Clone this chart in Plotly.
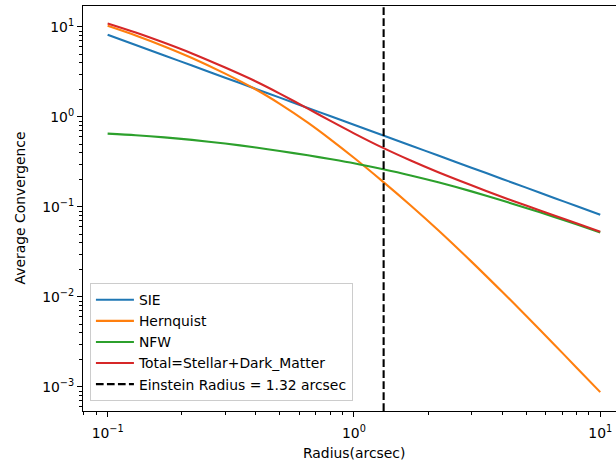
import plotly.graph_objects as go

# ---------------- data ----------------
radius = [0.1, 0.13, 0.17, 0.22, 0.3, 0.4, 0.5, 0.65, 0.8, 1.0, 1.3, 1.7, 2.2, 3, 4, 5, 6.5, 8, 10]
sie = [8.2, 6.31, 4.82, 3.73, 2.73, 2.05, 1.64, 1.26, 1.025, 0.82, 0.63, 0.482, 0.373, 0.273,
       0.205, 0.164, 0.126, 0.1025, 0.082]
hernquist = [10.3, 8.05, 6.08, 4.52, 3.03, 2.02, 1.40, 0.865, 0.568, 0.352, 0.195, 0.104,
             0.0552, 0.0247, 0.0114, 0.0062, 0.00297, 0.00165, 0.000876]
nfw = [0.653, 0.627, 0.594, 0.556, 0.507, 0.457, 0.418, 0.375, 0.341, 0.306, 0.264, 0.224,
       0.188, 0.149, 0.118, 0.0975, 0.0776, 0.0642, 0.052]
total = [10.95, 8.68, 6.67, 5.08, 3.54, 2.48, 1.82, 1.240, 0.909, 0.658, 0.459, 0.328,
         0.243, 0.174, 0.129, 0.1037, 0.0806, 0.0659, 0.0529]
einstein_radius = 1.32

series_names = ["SIE", "Hernquist", "NFW", "Total=Stellar+Dark_Matter"]
einstein_label = "Einstein Radius = 1.32 arcsec"

x_tickvals = [0.1, 1, 10]
x_ticktext = ["10<sup>−1</sup>", "10<sup>0</sup>", "10<sup>1</sup>"]
y_tickvals = [0.001, 0.01, 0.1, 1, 10]
y_ticktext = ["10<sup>−3</sup>", "10<sup>−2</sup>", "10<sup>−1</sup>", "10<sup>0</sup>", "10<sup>1</sup>"]

x_label = "Radius(arcsec)"
y_label = "Average Convergence"

# ---------------- styling ----------------
colors = ["#1f77b4", "#ff7f0e", "#2ca02c", "#d62728"]
FONT = "DejaVu Sans"
FS = 13.9
LW = 2.1

x_range_log = [-1.1, 1.064]
y_range_log = [-3.267, 1.233]

minor_x = [k * 10.0 ** e for e in range(-2, 2) for k in range(2, 10)]
minor_y = [k * 10.0 ** e for e in range(-4, 2) for k in range(2, 10)]

fig = go.Figure()
for i, (name, vals) in enumerate(zip(series_names, [sie, hernquist, nfw, total])):
    fig.add_trace(go.Scatter(
        x=radius, y=vals, mode="lines", name=name, legendgroup=name,
        line=dict(color=colors[i], width=LW, shape="spline", smoothing=0.8),
    ))

fig.add_trace(go.Scatter(
    x=[einstein_radius, einstein_radius],
    y=[10 ** y_range_log[0], 10 ** y_range_log[1]],
    mode="lines", name=einstein_label, legendgroup="er",
    line=dict(color="black", width=LW, dash="7.7px,3.3px"),
))

axis_common = dict(
    type="log", showgrid=False, zeroline=False,
    showline=True, linecolor="black", linewidth=1.1,
    ticks="outside", ticklen=5, tickwidth=1.1, tickcolor="black",
    tickfont=dict(family=FONT, size=FS, color="black"),
)

fig.update_xaxes(
    **axis_common, range=x_range_log, mirror=True,
    tickvals=x_tickvals, ticktext=x_ticktext, ticklabelstandoff=4,
    minor=dict(tickvals=minor_x, ticks="outside", ticklen=3, tickwidth=0.85,
               tickcolor="black", showgrid=False),
)
fig.update_yaxes(
    **axis_common, range=y_range_log,
    tickvals=y_tickvals, ticktext=y_ticktext,
    minor=dict(tickvals=minor_y, ticks="outside", ticklen=3, tickwidth=0.85,
               tickcolor="black", showgrid=False),
)

fig.update_layout(
    width=616, height=466,
    margin=dict(l=83, r=0, t=6, b=55),
    paper_bgcolor="white", plot_bgcolor="white",
    font=dict(family=FONT, size=FS, color="black"),
    showlegend=True,
    legend=dict(
        x=0.013, y=0.024, xanchor="left", yanchor="bottom",
        bgcolor="rgba(255,255,255,0.8)", bordercolor="#cccccc", borderwidth=1,
        font=dict(family=FONT, size=FS, color="black"),
        tracegroupgap=5, traceorder="normal", itemwidth=38,
    ),
    annotations=[
        dict(text=x_label, xref="paper", yref="paper", x=(354 - 83) / 533, y=0,
             yshift=-42, xanchor="center", yanchor="middle", showarrow=False,
             font=dict(family=FONT, size=FS, color="black")),
        dict(text=y_label, xref="paper", yref="paper", x=0, y=0.5, xshift=-64,
             textangle=-90, xanchor="center", yanchor="middle", showarrow=False,
             font=dict(family=FONT, size=FS, color="black")),
    ],
)

fig.write_html("out.html")
